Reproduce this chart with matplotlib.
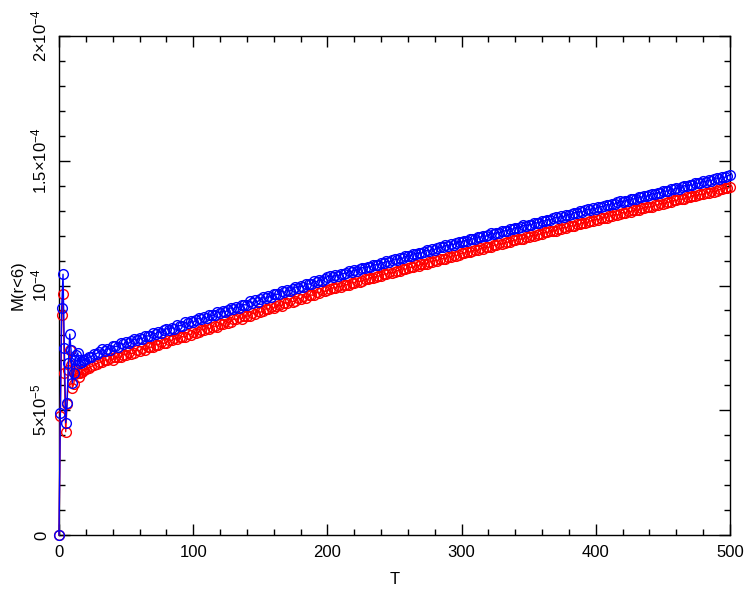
import numpy as np
import matplotlib
matplotlib.use("Agg")
import matplotlib.pyplot as plt
from matplotlib.ticker import MultipleLocator, FixedLocator

# ---- data (M in units of 1e-5) ----
t_early = list(range(0, 20))
blue_early = [0.0, 4.9, 9.1, 10.45, 7.5, 4.5, 5.3, 6.9, 8.05, 7.4,
              6.1, 6.5, 7.0, 7.2, 7.3, 7.0, 6.9, 6.95, 7.0, 7.02]
red_early = [0.0, 4.78, 8.8, 9.66, 6.5, 4.14, 5.25, 6.6, 7.4, 6.8,
             5.9, 6.05, 6.45, 6.6, 6.5, 6.35, 6.5, 6.55, 6.6, 6.62]

# T = 20, 22, ..., 500
blue_late = [
    7.05, 7.12, 7.15, 7.24, 7.27, 7.35, 7.44, 7.39, 7.47, 7.43,
    7.56, 7.56, 7.55, 7.69, 7.64, 7.73, 7.68, 7.78, 7.85, 7.81,
    7.89, 7.85, 7.98, 7.98, 7.97, 8.11, 8.06, 8.15, 8.10, 8.20,
    8.27, 8.23, 8.31, 8.26, 8.40, 8.39, 8.39, 8.52, 8.48, 8.56,
    8.52, 8.61, 8.69, 8.64, 8.73, 8.68, 8.82, 8.81, 8.81, 8.94,
    8.90, 8.98, 8.94, 9.03, 9.11, 9.06, 9.15, 9.10, 9.23, 9.23,
    9.22, 9.36, 9.31, 9.40, 9.35, 9.45, 9.52, 9.48, 9.56, 9.52,
    9.65, 9.65, 9.64, 9.78, 9.73, 9.82, 9.77, 9.87, 9.94, 9.90,
    9.98, 9.94, 10.07, 10.06, 10.06, 10.19, 10.15, 10.23, 10.19, 10.28,
    10.36, 10.37, 10.35, 10.41, 10.39, 10.47, 10.48, 10.49, 10.57, 10.56,
    10.62, 10.60, 10.67, 10.72, 10.69, 10.75, 10.74, 10.82, 10.83, 10.84,
    10.92, 10.91, 10.97, 10.95, 11.01, 11.06, 11.04, 11.10, 11.09, 11.17,
    11.18, 11.19, 11.27, 11.26, 11.31, 11.29, 11.36, 11.41, 11.39, 11.45,
    11.44, 11.52, 11.53, 11.54, 11.61, 11.60, 11.66, 11.64, 11.71, 11.76,
    11.74, 11.80, 11.78, 11.86, 11.87, 11.87, 11.95, 11.94, 11.99, 11.97,
    12.04, 12.09, 12.06, 12.12, 12.11, 12.18, 12.19, 12.20, 12.27, 12.26,
    12.32, 12.30, 12.36, 12.41, 12.39, 12.44, 12.43, 12.51, 12.51, 12.52,
    12.60, 12.59, 12.64, 12.62, 12.69, 12.73, 12.71, 12.77, 12.75, 12.83,
    12.84, 12.85, 12.92, 12.91, 12.97, 12.94, 13.01, 13.06, 13.03, 13.09,
    13.08, 13.15, 13.16, 13.17, 13.24, 13.23, 13.28, 13.26, 13.33, 13.37,
    13.35, 13.40, 13.39, 13.47, 13.47, 13.48, 13.55, 13.54, 13.60, 13.57,
    13.64, 13.68, 13.66, 13.72, 13.70, 13.78, 13.78, 13.79, 13.87, 13.85,
    13.91, 13.88, 13.95, 14.00, 13.97, 14.03, 14.01, 14.09, 14.10, 14.10,
    14.18, 14.16, 14.22, 14.20, 14.26, 14.31, 14.28, 14.34, 14.33, 14.40,
    14.41]
red_late = [
    6.65, 6.69, 6.76, 6.80, 6.87, 6.93, 6.93, 7.02, 7.00, 7.09,
    7.03, 7.13, 7.13, 7.12, 7.23, 7.21, 7.32, 7.27, 7.29, 7.40,
    7.38, 7.48, 7.42, 7.52, 7.53, 7.52, 7.63, 7.62, 7.73, 7.68,
    7.71, 7.82, 7.80, 7.89, 7.84, 7.93, 7.95, 7.93, 8.05, 8.03,
    8.15, 8.09, 8.13, 8.23, 8.22, 8.31, 8.26, 8.35, 8.37, 8.35,
    8.47, 8.45, 8.57, 8.51, 8.55, 8.65, 8.64, 8.73, 8.67, 8.77,
    8.78, 8.77, 8.88, 8.87, 8.98, 8.93, 8.96, 9.07, 9.05, 9.15,
    9.09, 9.19, 9.20, 9.19, 9.30, 9.29, 9.40, 9.35, 9.38, 9.49,
    9.47, 9.57, 9.51, 9.60, 9.62, 9.60, 9.72, 9.70, 9.82, 9.76,
    9.80, 9.84, 9.91, 9.91, 9.97, 9.95, 10.01, 10.03, 10.03, 10.11,
    10.11, 10.18, 10.16, 10.19, 10.25, 10.25, 10.32, 10.30, 10.36, 10.38,
    10.38, 10.46, 10.46, 10.53, 10.50, 10.53, 10.60, 10.60, 10.67, 10.65,
    10.71, 10.73, 10.73, 10.81, 10.80, 10.87, 10.85, 10.88, 10.95, 10.95,
    11.02, 11.00, 11.06, 11.08, 11.07, 11.15, 11.15, 11.22, 11.20, 11.23,
    11.30, 11.30, 11.36, 11.34, 11.40, 11.41, 11.41, 11.49, 11.48, 11.55,
    11.53, 11.56, 11.62, 11.62, 11.69, 11.66, 11.72, 11.74, 11.73, 11.81,
    11.81, 11.88, 11.85, 11.88, 11.95, 11.94, 12.01, 11.99, 12.04, 12.06,
    12.06, 12.14, 12.13, 12.20, 12.18, 12.20, 12.27, 12.27, 12.33, 12.31,
    12.37, 12.39, 12.38, 12.46, 12.46, 12.52, 12.50, 12.53, 12.59, 12.59,
    12.66, 12.64, 12.70, 12.72, 12.71, 12.79, 12.78, 12.85, 12.83, 12.85,
    12.92, 12.91, 12.98, 12.96, 13.01, 13.03, 13.02, 13.10, 13.10, 13.16,
    13.14, 13.16, 13.23, 13.23, 13.29, 13.27, 13.32, 13.34, 13.34, 13.41,
    13.41, 13.47, 13.45, 13.48, 13.54, 13.54, 13.60, 13.58, 13.64, 13.65,
    13.65, 13.72, 13.72, 13.79, 13.76, 13.79, 13.85, 13.85, 13.92, 13.89,
    13.94]

y_ticks = [0, 5e-5, 1e-4, 1.5e-4, 2e-4]
y_ticklabels = ["0", r"$5{\times}10^{-5}$", r"$10^{-4}$",
                r"$1.5{\times}10^{-4}$", r"$2{\times}10^{-4}$"]
x_ticks = [0, 100, 200, 300, 400, 500]
x_ticklabels = ["0", "100", "200", "300", "400", "500"]

t_blue = np.array(t_early + list(range(20, 20 + 2 * len(blue_late), 2)), dtype=float)
t_red = np.array(t_early + list(range(20, 20 + 2 * len(red_late), 2)), dtype=float)
blue = np.array(blue_early + blue_late) * 1e-5
red = np.array(red_early + red_late) * 1e-5

plt.rcParams['font.family'] = ['Liberation Sans', 'DejaVu Sans']
plt.rcParams['mathtext.fontset'] = 'custom'
plt.rcParams['mathtext.rm'] = 'Liberation Sans'
plt.rcParams['mathtext.it'] = 'Liberation Sans'

fig = plt.figure(figsize=(7.52, 5.94), dpi=100)
ax = fig.add_axes([59/752, 1 - 535/594, (730-59)/752, (535-36)/594])

ax.plot(t_red, red, '-o', color=(1, 0, 0), mfc='none', mec=(1, 0, 0),
        ms=7, mew=1.0, lw=1.0, clip_on=False, zorder=3)
ax.plot(t_blue, blue, '-o', color=(0, 0, 1), mfc='none', mec=(0, 0, 1),
        ms=7, mew=1.0, lw=1.0, clip_on=False, zorder=4)

ax.set_xlim(0, 500)
ax.set_ylim(0, 2e-4)
ax.xaxis.set_major_locator(FixedLocator(x_ticks))
ax.set_xticklabels(x_ticklabels)
ax.xaxis.set_minor_locator(MultipleLocator(20))
ax.yaxis.set_major_locator(FixedLocator(y_ticks))
ax.set_yticklabels(y_ticklabels, rotation=90, va='center')
ax.yaxis.set_minor_locator(MultipleLocator(1e-5))

ax.tick_params(which='both', direction='in', top=True, right=True,
               width=1.0, colors='black', labelsize=12)
ax.tick_params(which='major', length=8)
ax.tick_params(which='minor', length=4)
ax.tick_params(axis='x', pad=7)
ax.tick_params(axis='y', pad=7)
for s in ax.spines.values():
    s.set_linewidth(1.0)

ax.set_xlabel("T", fontsize=12, labelpad=9)
ax.set_ylabel("M(r<6)", fontsize=12, labelpad=3)

fig.savefig("out.png", dpi=100)
